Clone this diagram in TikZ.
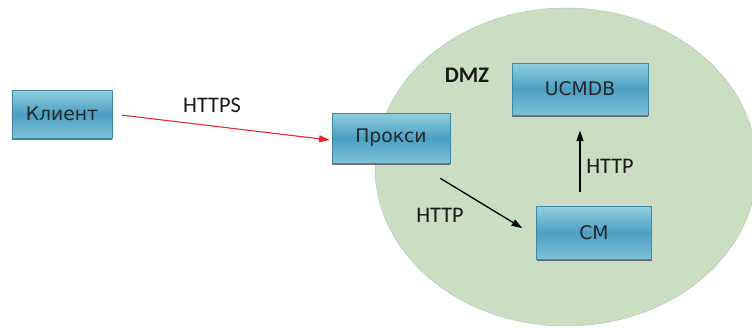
\documentclass[tikz,border=0pt]{standalone}
\usepackage{fontspec}
\setmainfont{Carlito}
\newfontfamily\boxfont{DejaVu Sans}
\usepackage{xcolor}
\usepackage{tikz}
\usetikzlibrary{shapes.geometric, arrows.meta, positioning, calc, shadows}
\definecolor{zonegreen}{HTML}{CBDDC3}
\definecolor{zoneedge}{HTML}{B2C9A9}
\definecolor{boxtop}{HTML}{8FD0E0}
\definecolor{boxmid}{HTML}{4C9FC2}
\definecolor{boxbot}{HTML}{7CC2D6}
\definecolor{boxedge}{HTML}{3F87A3}
\definecolor{arrowred}{HTML}{E0282E}

\begin{document}
\begin{tikzpicture}[x=0.03cm, y=-0.03cm]
    % Styles
    \tikzstyle{server} = [draw=boxedge, line width=0.6pt, top color=boxtop, bottom color=boxbot, middle color=boxmid, drop shadow={shadow xshift=0.4pt, shadow yshift=-1.6pt, fill=black!70, opacity=0.8}, align=center, font=\boxfont\fontsize{16}{18}\selectfont, text=black!85]
    \tikzstyle{zone} = [ellipse, draw=zoneedge, fill=zonegreen, minimum width=11.46cm, minimum height=9.54cm]
    \tikzstyle{label} = [font=\fontsize{19}{21}\selectfont, text=black!90]
    \tikzstyle{arrow} = [draw, -{Triangle[length=9pt, width=6pt]}, line width=1.1pt]

    \useasboundingbox (0,0) rectangle (752,327);
    \clip (0,0) rectangle (752,327);

    % DMZ zone
    \node[zone] (dmz) at (566,167) {};
    \node[label, font=\fontsize{19}{21}\selectfont\bfseries] (dmzlabel) at (467,75) {DMZ};

    % Boxes
    \node[server, minimum width=3cm, minimum height=1.44cm] (client) at (62,114) {Клиент};
    \node[server, minimum width=3.54cm, minimum height=1.5cm] (proxy) at (391,138) {Прокси};
    \node[server, minimum width=4.08cm, minimum height=1.56cm] (ucmdb) at (580,89) {UCMDB};
    \node[server, minimum width=3.45cm, minimum height=1.59cm] (cm) at (594,233) {CM};

    % Arrows
    \draw[arrow, draw=arrowred, fill=arrowred, line width=0.9pt, shorten <=8pt] (client.east) -- ($(proxy.west)+(-2,2)$);
    \draw[arrow, fill=black] ($(proxy.south east)+(-10,15)$) -- ($(cm.west)+(-14,-5)$);
    \draw[arrow, fill=black, shorten <=12pt, shorten >=13pt] (cm.north -| ucmdb.south) -- (ucmdb.south);

    % Labels
    \node[label] (https) at (212,105) {HTTPS};
    \node[label] (http1) at (440,215) {HTTP};
    \node[label] (http2) at (610,166) {HTTP};
\end{tikzpicture}
\end{document}
